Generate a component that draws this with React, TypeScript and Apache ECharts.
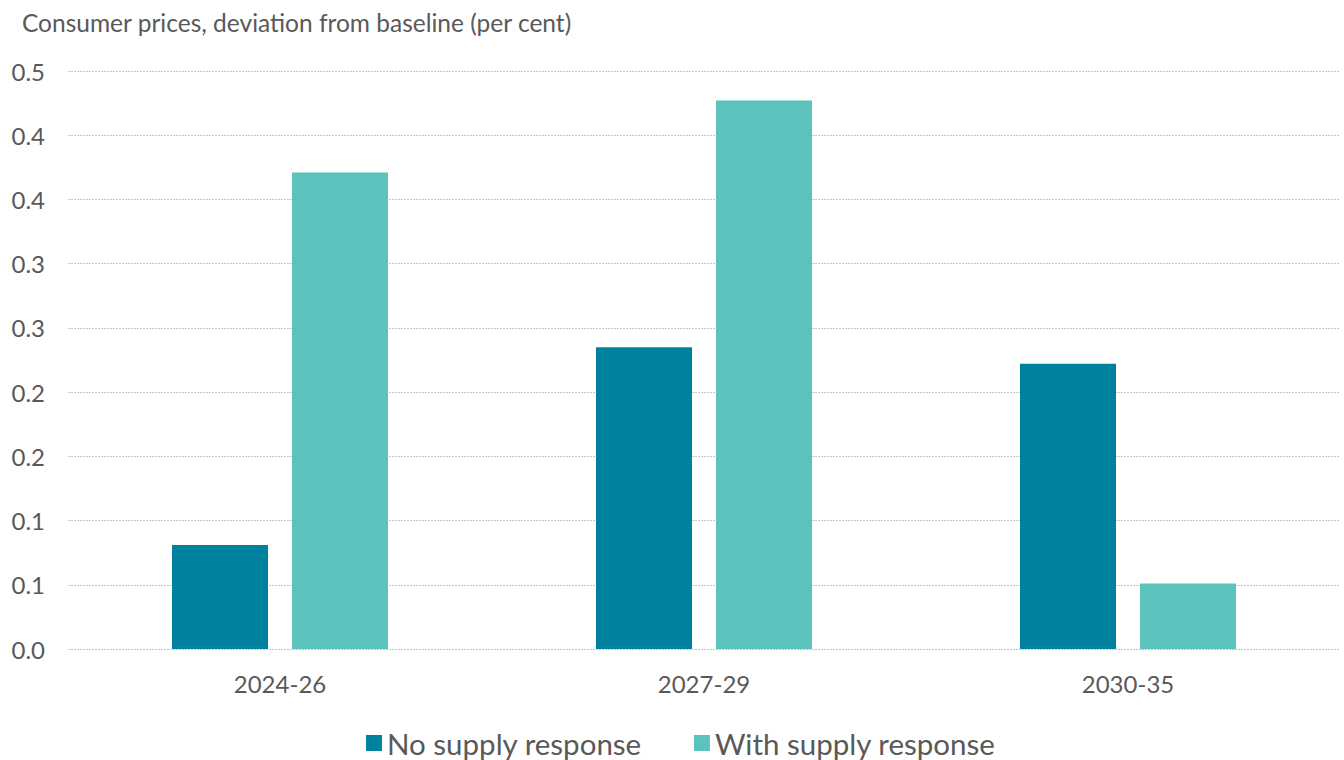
import React, { useEffect, useRef } from "react";
import * as echarts from "echarts";

const categories = ["2024-26", "2027-29", "2030-35"];
const noSupply = [0.081, 0.235, 0.222];
const withSupply = [0.371, 0.427, 0.051];
const seriesNames = ["No supply response", "With supply response"];
const yMin = 0;
const yMax = 0.45;
const yInterval = 0.05;

export default function App() {
  const ref = useRef<HTMLDivElement>(null);
  useEffect(() => {
    if (!ref.current) return;
    const chart = echarts.init(ref.current, null, { renderer: "svg" });
    const font = "Lato";
    chart.setOption({
      animation: false,
      backgroundColor: "#ffffff",
      textStyle: { fontFamily: font },
      title: {
        text: "Consumer prices, deviation from baseline (per cent)",
        left: 17,
        top: 5,
        textStyle: { fontFamily: font, fontSize: 24.5, fontWeight: "normal", color: "#595959" },
      },
      grid: { left: 68, right: 4, top: 71, bottom: 111, containLabel: false },
      legend: {
        top: 727,
        left: 366,
        padding: 0,
        itemWidth: 16,
        itemHeight: 16,
        itemGap: 52,
        icon: "rect",
        textStyle: { fontFamily: font, fontSize: 29.5, lineHeight: 32, color: "#595959" },
        data: seriesNames,
      },
      xAxis: {
        type: "category",
        data: categories,
        axisLine: { show: false },
        axisTick: { show: false },
        axisLabel: {
          fontFamily: font,
          fontSize: 24,
          color: "#595959",
          margin: 22,
        },
      },
      yAxis: {
        type: "value",
        min: yMin,
        max: yMax,
        interval: yInterval,
        axisLine: { show: false },
        axisTick: { show: false },
        axisLabel: {
          fontFamily: font,
          fontSize: 24,
          color: "#595959",
          margin: 23,
          formatter: (v: number) => {
            const k = Math.round(v / yInterval);
            return (Math.ceil(k / 2) / 10).toFixed(1);
          },
        },
        splitLine: { lineStyle: { color: "#c4c4c4", type: [2, 1], width: 1 } },
      },
      series: [
        {
          name: seriesNames[0],
          type: "bar",
          data: noSupply,
          barWidth: 96,
          barGap: "25%",
          itemStyle: { color: "#0081A0" },
        },
        {
          name: seriesNames[1],
          type: "bar",
          data: withSupply,
          barWidth: 96,
          itemStyle: { color: "#5BC3BC" },
        },
      ],
    });
    return () => chart.dispose();
  }, []);
  return (
    <div
      ref={ref}
      style={{ position: "fixed", left: 0, top: 0, width: 1344, height: 760, overflow: "visible" }}
    />
  );
}
